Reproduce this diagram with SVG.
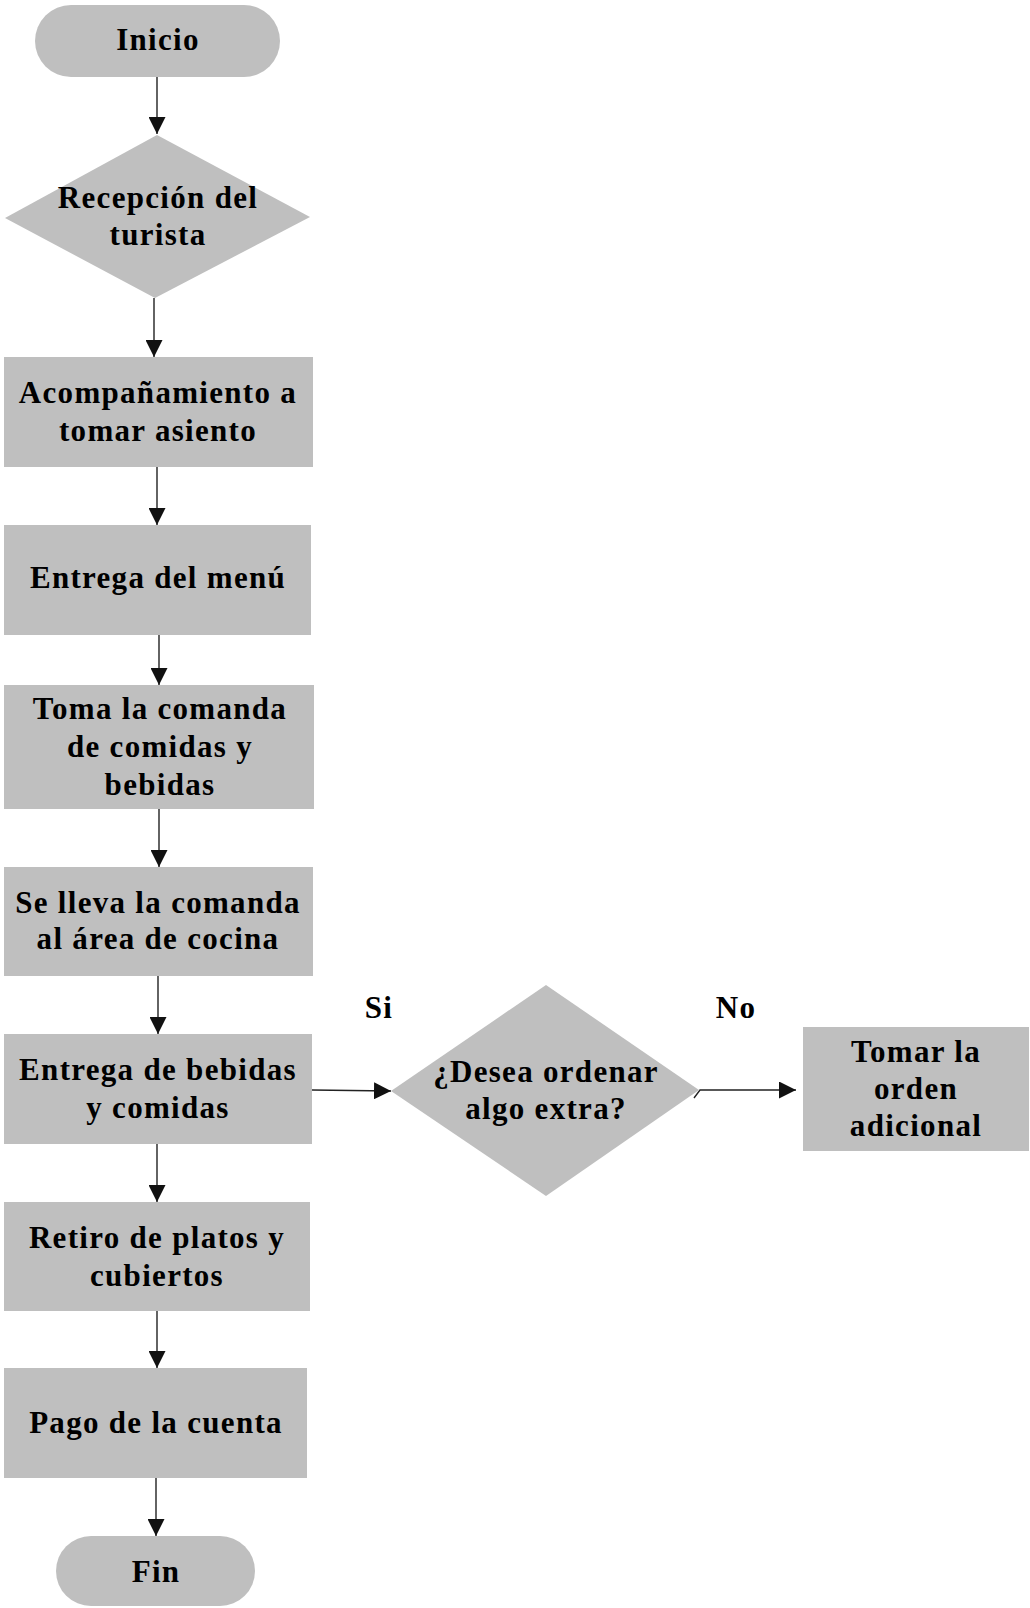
<svg xmlns="http://www.w3.org/2000/svg" width="1030" height="1608" viewBox="0 0 1030 1608">
<style>
.n{fill:#bfbfbf;stroke:none}
.t{font-family:"Liberation Serif","Times New Roman",serif;font-weight:bold;font-size:31px;letter-spacing:1.3px;fill:#000;text-anchor:middle}
.c{stroke:#222;stroke-width:1.4;fill:none;marker-end:url(#ah)}
</style>
<defs>
<marker id="ah" markerUnits="userSpaceOnUse" markerWidth="18" markerHeight="17" refX="17" refY="8.5" orient="auto">
<path d="M0,0 L17,8.5 L0,17 Z" fill="#111"/>
</marker>
</defs>
<rect width="1030" height="1608" fill="#fff"/>
<g id="connectors">
<path class="c" d="M157,77 L157,134"/>
<path class="c" d="M154,298 L154,357"/>
<path class="c" d="M157,467 L157,525"/>
<path class="c" d="M159,635 L159,685"/>
<path class="c" d="M159,809 L159,867"/>
<path class="c" d="M158,976 L158,1034"/>
<path class="c" d="M157,1144 L157,1202"/>
<path class="c" d="M157,1311 L157,1368"/>
<path class="c" d="M156,1478 L156,1536"/>
<path class="c" d="M312,1090 L391,1091"/>
<path class="c" d="M694,1098 L700,1090 L796,1090"/>
</g>
<g id="inicio">
<rect class="n" x="35" y="5" width="245" height="72" rx="36"/>
<text class="t" x="158" y="50">Inicio</text>
</g>
<g id="recepcion">
<polygon class="n" points="157,135 310,217 155,298 5,218"/>
<text class="t" x="158" y="208">Recepción del</text>
<text class="t" x="158" y="245">turista</text>
</g>
<g id="acompanamiento">
<rect class="n" x="4" y="357" width="309" height="110"/>
<text class="t" x="158" y="403">Acompañamiento a</text>
<text class="t" x="158" y="441">tomar asiento</text>
</g>
<g id="menu">
<rect class="n" x="4" y="525" width="307" height="110"/>
<text class="t" x="158" y="588">Entrega del menú</text>
</g>
<g id="comanda">
<rect class="n" x="4" y="685" width="310" height="124"/>
<text class="t" x="160" y="719">Toma la comanda</text>
<text class="t" x="160" y="757">de comidas y</text>
<text class="t" x="160" y="795">bebidas</text>
</g>
<g id="cocina">
<rect class="n" x="4" y="867" width="309" height="109"/>
<text class="t" x="158" y="913">Se lleva la comanda</text>
<text class="t" x="158" y="949">al área de cocina</text>
</g>
<g id="entrega">
<rect class="n" x="4" y="1034" width="308" height="110"/>
<text class="t" x="158" y="1080">Entrega de bebidas</text>
<text class="t" x="158" y="1118">y comidas</text>
</g>
<g id="retiro">
<rect class="n" x="4" y="1202" width="306" height="109"/>
<text class="t" x="157" y="1248">Retiro de platos y</text>
<text class="t" x="157" y="1286">cubiertos</text>
</g>
<g id="pago">
<rect class="n" x="4" y="1368" width="303" height="110"/>
<text class="t" x="156" y="1433">Pago de la cuenta</text>
</g>
<g id="fin">
<rect class="n" x="56" y="1536" width="199" height="70" rx="35"/>
<text class="t" x="156" y="1582">Fin</text>
</g>
<g id="decision">
<polygon class="n" points="546,985 699,1090 546,1196 391,1091"/>
<text class="t" x="546" y="1082">¿Desea ordenar</text>
<text class="t" x="546" y="1119">algo extra?</text>
</g>
<g id="labels">
<text class="t" x="379" y="1018">Si</text>
<text class="t" x="736" y="1018">No</text>
</g>
<g id="adicional">
<rect class="n" x="803" y="1027" width="226" height="124"/>
<text class="t" x="916" y="1062">Tomar la</text>
<text class="t" x="916" y="1099">orden</text>
<text class="t" x="916" y="1136">adicional</text>
</g>
</svg>
